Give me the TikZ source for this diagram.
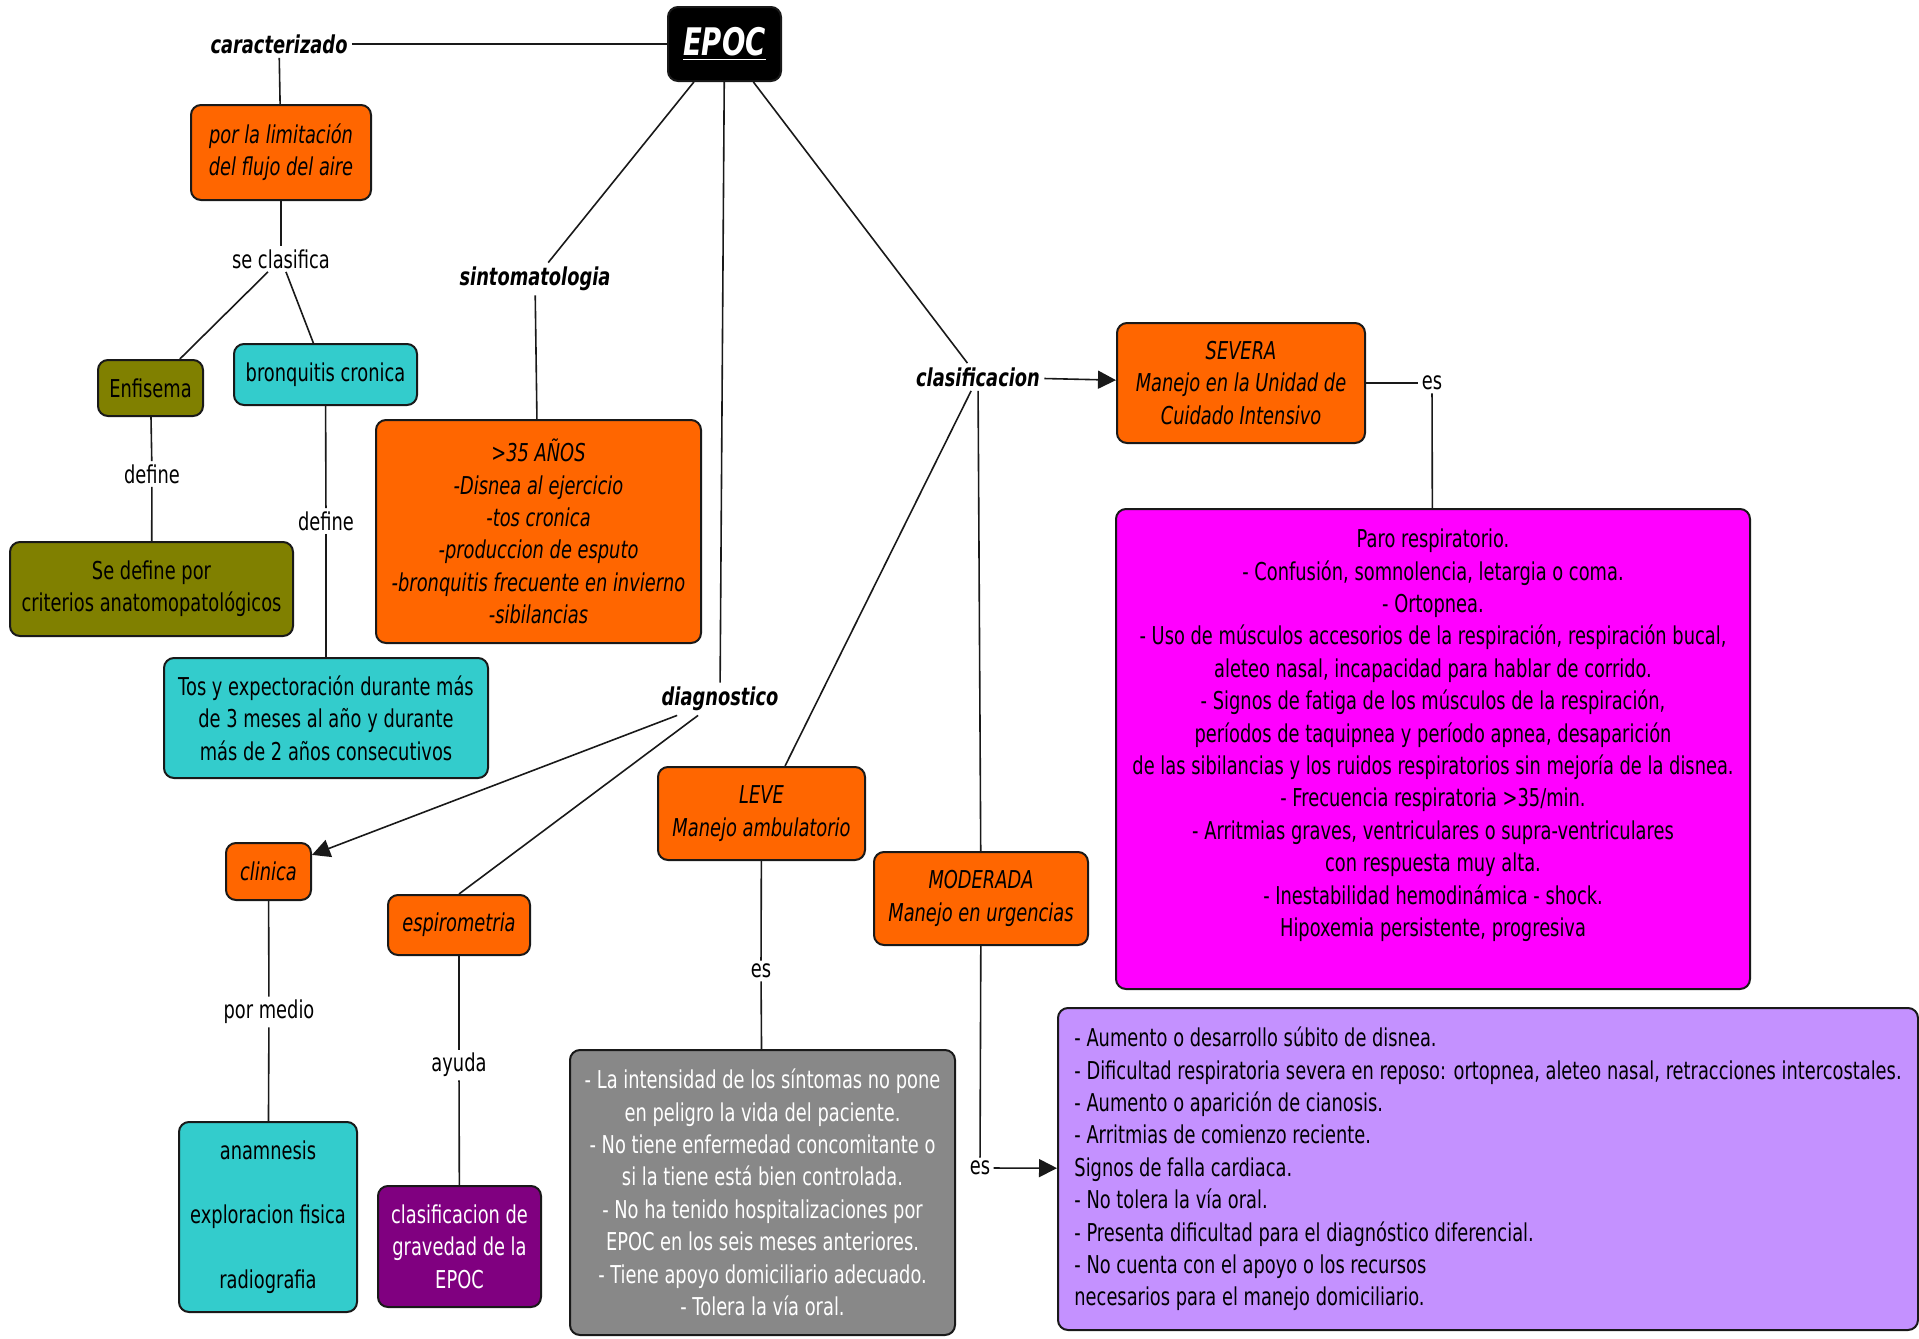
\documentclass[tikz,border=0pt]{standalone}
\usepackage{fontspec}
\setmainfont{DejaVu Sans}[FakeStretch=0.725]
\usetikzlibrary{arrows.meta}
\definecolor{corange}{HTML}{FF6600}
\definecolor{colive}{HTML}{808000}
\definecolor{cteal}{HTML}{33CCCC}
\definecolor{cmag}{HTML}{FF00FF}
\definecolor{cpurp}{HTML}{800080}
\definecolor{cgray}{HTML}{888888}
\definecolor{clav}{HTML}{C491FF}
\newcommand\bodyfont{\fontsize{12.3}{16.2}\selectfont}
\tikzset{
  box/.style={draw=black!90, line width=1pt, rounded corners=5pt, align=center, inner sep=2pt, font=\bodyfont},
  obox/.style={box, fill=corange, font=\bodyfont\itshape},
  olbox/.style={box, fill=colive},
  tbox/.style={box, fill=cteal},
  pbox/.style={box, fill=cpurp, text=white},
  gbox/.style={box, fill=cgray, text=white},
  mbox/.style={box, fill=cmag},
  lbox/.style={box, fill=clav, align=left},
  lbl/.style={inner sep=1.5pt, font=\bodyfont},
  bi/.style={inner sep=2pt, font=\bodyfont\bfseries\itshape},
  conn/.style={draw=black!90, line width=0.8pt},
  arr/.style={conn, -{Triangle[length=9pt,width=9pt]}},
}
\begin{document}
\begin{tikzpicture}[x=0.5pt,y=-0.5pt]
\useasboundingbox (0,0) rectangle (1919,1339);
% nodes
\node[box, fill=black, text=white, font=\fontsize{19}{21}\selectfont\bfseries\itshape, minimum width=56.5pt, minimum height=37pt] (epoc) at (724.5,44) {\underline{EPOC}};
\node[bi] (carac) at (279,44) {caracterizado};
\node[obox, minimum width=90pt, minimum height=47.5pt] (limit) at (281,152.5) {por la limitación\\del flujo del aire};
\node[lbl] (seclas) at (281,259) {se clasifica};
\node[olbox, minimum width=52.5pt, minimum height=28pt] (enf) at (150.5,388) {Enfisema};
\node[tbox, minimum width=91.5pt, minimum height=30.5pt] (bronq) at (325.5,374.5) {bronquitis cronica};
\node[lbl] (def1) at (152,474) {define};
\node[olbox, minimum width=141.5pt, minimum height=47pt] (sedef) at (151.5,589) {Se define por\\criterios anatomopatológicos};
\node[lbl] (def2) at (326,521) {define};
\node[tbox, minimum width=162pt, minimum height=60pt] (tos) at (326,718) {Tos y expectoración durante más\\de 3 meses al año y durante\\más de 2 años consecutivos};
\node[bi] (sint) at (535,279) {sintomatologia};
\node[obox, minimum width=162.5pt, minimum height=111.5pt] (sintbox) at (538.5,531.5) {>35 AÑOS\\-Disnea al ejercicio\\-tos cronica\\-produccion de esputo\\-bronquitis frecuente en invierno\\-sibilancias};
\node[bi] (diag) at (720,699) {diagnostico};
\node[obox, minimum width=42.5pt, minimum height=28.5pt] (clin) at (268.5,871.5) {clinica};
\node[obox, minimum width=71pt, minimum height=30pt] (espiro) at (459,925) {espirometria};
\node[lbl] (pormed) at (269,1012) {por medio};
\node[tbox, minimum width=89pt, minimum height=95pt] (anam) at (268,1217) {anamnesis\\[16.2pt]exploracion fisica\\[16.2pt]radiografia};
\node[lbl] (ayuda) at (459,1065) {ayuda};
\node[pbox, minimum width=81.5pt, minimum height=60.5pt] (grav) at (459.5,1246.5) {clasificacion de\\gravedad de la\\EPOC};
\node[bi] (clasif) at (978,377) {clasificacion};
\node[obox, minimum width=124pt, minimum height=60pt] (sev) at (1241,383) {SEVERA\\Manejo en la Unidad de\\Cuidado Intensivo};
\node[lbl] (es1) at (1432,383) {es};
\node[mbox, minimum width=317pt, minimum height=240pt] (pink) at (1433,749) {Paro respiratorio.\\- Confusión, somnolencia, letargia o coma.\\- Ortopnea.\\- Uso de músculos accesorios de la respiración, respiración bucal,\\aleteo nasal, incapacidad para hablar de corrido.\\- Signos de fatiga de los músculos de la respiración,\\períodos de taquipnea y período apnea, desaparición\\de las sibilancias y los ruidos respiratorios sin mejoría de la disnea.\\- Frecuencia respiratoria >35/min.\\- Arritmias graves, ventriculares o supra-ventriculares\\con respuesta muy alta.\\- Inestabilidad hemodinámica - shock.\\Hipoxemia persistente, progresiva\\\mbox{}};
\node[obox, minimum width=103.5pt, minimum height=46.5pt] (leve) at (761.5,813.5) {LEVE\\Manejo ambulatorio};
\node[lbl] (es2) at (761,971) {es};
\node[gbox, minimum width=192.5pt, minimum height=142.5pt] (gray) at (762.5,1192.5) {- La intensidad de los síntomas no pone\\en peligro la vida del paciente.\\- No tiene enfermedad concomitante o\\si la tiene está bien controlada.\\- No ha tenido hospitalizaciones por\\EPOC en los seis meses anteriores.\\- Tiene apoyo domiciliario adecuado.\\- Tolera la vía oral.};
\node[obox, minimum width=107pt, minimum height=46.5pt] (mod) at (981,898.5) {MODERADA\\Manejo en urgencias};
\node[lbl] (es3) at (980,1168) {es};
\node[lbox, minimum width=430pt, minimum height=161pt] (lav) at (1488,1169) {- Aumento o desarrollo súbito de disnea.\\- Dificultad respiratoria severa en reposo: ortopnea, aleteo nasal, retracciones intercostales.\\- Aumento o aparición de cianosis.\\- Arritmias de comienzo reciente.\\Signos de falla cardiaca.\\- No tolera la vía oral.\\- Presenta dificultad para el diagnóstico diferencial.\\- No cuenta con el apoyo o los recursos\\necesarios para el manejo domiciliario.};
% connectors
\draw[conn] (carac) -- (epoc);
\draw[conn] (carac) -- (limit);
\draw[conn] (limit) -- (seclas);
\draw[conn] (seclas) -- (enf);
\draw[conn] (seclas) -- (bronq);
\draw[conn] (enf) -- (def1);
\draw[conn] (def1) -- (sedef);
\draw[conn] (bronq) -- (def2);
\draw[conn] (def2) -- (tos);
\draw[conn] (epoc) -- (sint);
\draw[conn] (sint) -- (sintbox);
\draw[conn] (epoc) -- (diag);
\draw[arr] (diag) -- (clin);
\draw[conn] (diag) -- (espiro.north);
\draw[conn] (clin) -- (pormed);
\draw[conn] (pormed) -- (anam);
\draw[conn] (espiro) -- (ayuda);
\draw[conn] (ayuda) -- (grav);
\draw[conn] (epoc) -- (clasif);
\draw[arr] (clasif) -- (sev);
\draw[conn] (sev) -- (es1);
\draw[conn] (es1) -- (pink);
\draw[conn] (clasif) -- (leve);
\draw[conn] (clasif) -- (mod);
\draw[conn] (leve) -- (es2);
\draw[conn] (es2) -- (gray);
\draw[conn] (mod) -- (es3);
\draw[arr] (es3) -- (lav);
\end{tikzpicture}
\end{document}
